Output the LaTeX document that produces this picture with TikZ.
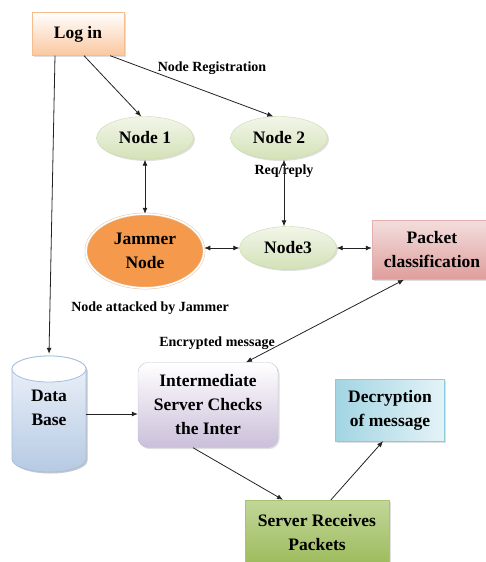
\documentclass[tikz,border=0pt]{standalone}
\usepackage{fontspec}
\setmainfont{Liberation Serif}
\usetikzlibrary{shapes.geometric,arrows.meta,shadows}
\definecolor{loginline}{HTML}{F5BC8E}
\definecolor{loginfill}{HTML}{FAC79F}
\definecolor{nodeline}{HTML}{C9DAA8}
\definecolor{nodetop}{HTML}{F2F6EA}
\definecolor{nodebottom}{HTML}{D3E1B7}
\definecolor{jamfill}{HTML}{F59A4C}
\definecolor{jamline}{HTML}{E2C6A6}
\definecolor{pktline}{HTML}{E3AFAE}
\definecolor{pkttop}{HTML}{F3DEDD}
\definecolor{pktbottom}{HTML}{DE9E9C}
\definecolor{dbline}{HTML}{A6BFDF}
\definecolor{dbtop}{HTML}{EEF3FA}
\definecolor{dbbottom}{HTML}{B6CAE3}
\definecolor{interline}{HTML}{C8BDD9}
\definecolor{interfill}{HTML}{CBBFDA}
\definecolor{decline}{HTML}{8CCBDC}
\definecolor{decdark}{HTML}{A2D5E3}
\definecolor{declight}{HTML}{E4F3F7}
\definecolor{srvline}{HTML}{A9C470}
\definecolor{srvtop}{HTML}{C2D699}
\definecolor{srvbottom}{HTML}{9CBB5B}
\definecolor{arrowgray}{HTML}{222222}

\begin{document}
\begin{tikzpicture}[x=1pt, y=-1pt,
    >={Latex[length=6pt,width=5pt]},
    font=\bfseries\fontsize{17.5}{24}\selectfont,
    shade/.style={drop shadow={opacity=0.25, shadow xshift=1.5pt, shadow yshift=-1.5pt}},
    loginbox/.style={rectangle, draw=loginline, top color=white, bottom color=loginfill,
      minimum width=92, minimum height=43, shade},
    member/.style={ellipse, draw=nodeline, top color=nodetop, bottom color=nodebottom,
      minimum width=97, minimum height=43, inner sep=0pt, shade},
    jammer/.style={ellipse, draw=jamline, double=white, double distance=1.6pt, line width=0.5pt,
      fill=jamfill, minimum width=118, minimum height=74, inner sep=0pt, align=center},
    packetbox/.style={rectangle, draw=pktline, top color=pkttop, bottom color=pktbottom,
      minimum width=120, minimum height=59, align=center, shade},
    database/.style={rectangle, minimum width=74, minimum height=108, align=center},
    interbox/.style={rectangle, rounded corners=10pt, draw=interline, top color=white,
      bottom color=interfill, minimum width=140, minimum height=85, align=center, shade},
    decbox/.style={rectangle, draw=decline, left color=decdark, right color=declight,
      minimum width=109, minimum height=62, align=center, shade},
    serverbox/.style={rectangle, draw=srvline, top color=srvtop, bottom color=srvbottom,
      minimum width=144, minimum height=66, align=center, shade},
    tag/.style={font=\bfseries\fontsize{14}{16}\selectfont},
    link/.style={draw=arrowgray, line width=0.8pt}]

   \useasboundingbox (0,0) rectangle (485,562);

   \shade[top color=dbtop, bottom color=dbbottom, draw=dbline, line width=0.8pt,
     drop shadow={opacity=0.25, shadow xshift=1.5pt, shadow yshift=-1.5pt}]
     (12,369) -- (12,459) arc[start angle=180, end angle=0, x radius=37, y radius=13]
     -- (86,369) arc[start angle=0, end angle=-180, x radius=37, y radius=13] -- cycle;
   \filldraw[fill=white, draw=dbline, line width=0.8pt]
     (49,369) ellipse[x radius=37, y radius=13];

   \node[loginbox] (login) at (78,34) {Log in};
   \node[member] (n1) at (145,138) {Node 1};
   \node[member] (n2) at (279,138) {Node 2};
   \node[jammer] (jam) at (145,251) {Jammer\\Node};
   \node[member] (n3) at (288,248) {Node3};
   \node[packetbox] (pkt) at (432,250) {Packet\\classification};
   \node[database] (db) at (49,408) {Data\\Base};
   \node[interbox] (inter) at (208,405) {Intermediate\\Server Checks\\the Inter};
   \node[decbox] (dec) at (390,410) {Decryption\\of message};
   \node[serverbox] (srv) at (317,533) {Server Receives\\Packets};

   \node[tag] (reg) at (212,68) {Node Registration};
   \node[tag] (req) at (284,171) {Req/reply};
   \node[tag] (att) at (150,308) {Node attacked by Jammer};
   \node[tag] (enc) at (217,343) {Encrypted message};

   \draw[link,->] ([xshift=-23pt]login.south) to (db.north);
   \draw[link,->] ([xshift=6pt]login.south) to (n1.100);
   \draw[link,->] ([xshift=-14pt]login.south east) to (n2.105);
   \draw[link,<->] (n1.south) to (jam.north);
   \draw[link,<->] ([xshift=5pt]n2.south) to ([xshift=-4pt]n3.north);
   \draw[link,<->] (n3.west -| jam.east) to (n3.west);
   \draw[link,<->] (n3.east) to (n3.east -| pkt.west);
   \draw[link,<->] ([xshift=-28pt]pkt.south) to ([xshift=38pt]inter.north);
   \draw[link,->] ([yshift=-6pt]db.east) to ([yshift=-6pt]db.east -| inter.west);
   \draw[link,->] ([xshift=-15pt]inter.south) to ([xshift=-34pt]srv.north);
   \draw[link,->] ([xshift=14pt]srv.north) to ([xshift=-7pt]dec.south);

 \end{tikzpicture}
\end{document}
